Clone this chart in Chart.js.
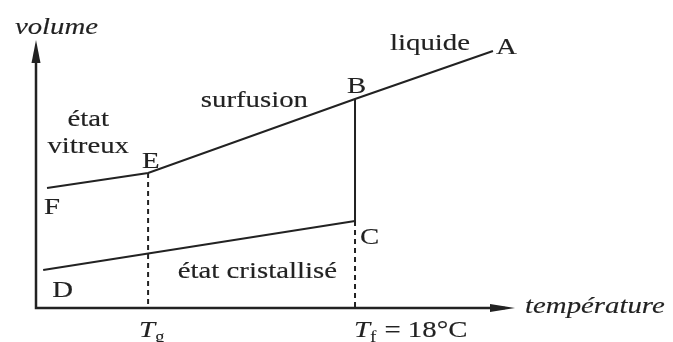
<!DOCTYPE html>
<html>
<head>
<meta charset="utf-8">
<script src="https://cdn.jsdelivr.net/npm/chart.js@4/dist/chart.umd.min.js"></script>
<style>
  html, body { margin: 0; padding: 0; background: #fff; }
  canvas { display: block; }
</style>
</head>
<body>
<canvas id="diagram" width="673" height="342"></canvas>
<script>
// Volume vs temperature (arbitrary units, 0..100 on both axes)
const liquidTemp = [2.3, 23.4, 66.6, 95.4];      // F, E, B, A
const liquidVolume = [44.8, 50.4, 78.0, 95.9];
const liquidNames = ["F", "E", "B", "A"];

const crystalTemp = [1.5, 66.6];                 // D, C
const crystalVolume = [14.2, 32.5];
const crystalNames = ["D", "C"];

const tempGlass = 23.4;   // T_g
const tempFusion = 66.6;  // T_f = 18°C

const ink = "#222";
const font = "24px 'Liberation Serif', serif";
const italic = "italic 24px 'Liberation Serif', serif";
const stretch = 1.2;

const toPoints = (xs, ys) => xs.map((x, i) => ({ x, y: ys[i] }));
const liquidPts = toPoints(liquidTemp, liquidVolume);
const crystalPts = toPoints(crystalTemp, crystalVolume);

// letter offsets next to each named point (px)
const nameOffset = {
  A: [3, 3], B: [-8, -6], E: [-6, -5], F: [-3, 26], C: [5, 23], D: [9, 27]
};

// free text, placed in axis units
const captions = [
  { text: "liquide", x: 73.9, y: 96.3 },
  { text: "surfusion", x: 34.4, y: 75.0 },
  { text: "état", x: 10.9, y: 67.9, align: "center" },
  { text: "vitreux", x: 10.9, y: 57.8, align: "center" },
  { text: "état cristallisé", x: 29.6, y: 11.2 },
  { text: "volume", x: -4.4, y: 102.2, italic: true },
  { text: "température", x: 102.1, y: -1.9, italic: true }
];

function drawText(ctx, text, px, py, opts = {}) {
  ctx.save();
  ctx.font = opts.italic ? italic : font;
  ctx.fillStyle = ink;
  ctx.strokeStyle = ink;
  ctx.lineWidth = 0.15;
  ctx.textBaseline = "alphabetic";
  ctx.translate(px, py);
  ctx.scale(stretch, 1);
  let w = ctx.measureText(text).width;
  const left = opts.align === "center" ? -w / 2 : 0;
  ctx.fillText(text, left, 0);
  ctx.strokeText(text, left, 0);
  ctx.restore();
  return w * stretch;
}

const diagramPlugin = {
  id: "diagram",
  beforeDatasetsDraw(chart) {
    const { ctx, scales: { x, y } } = chart;
    const x0 = x.getPixelForValue(0), y0 = y.getPixelForValue(0);
    const xEnd = x.getPixelForValue(100), yEnd = y.getPixelForValue(100);
    ctx.save();
    ctx.strokeStyle = ink;
    ctx.fillStyle = ink;
    ctx.lineWidth = 2.5;
    ctx.beginPath();
    ctx.moveTo(x0, yEnd + 10);
    ctx.lineTo(x0, y0);
    ctx.lineTo(xEnd - 10, y0);
    ctx.stroke();
    // arrow heads
    ctx.beginPath();
    ctx.moveTo(x0, yEnd);
    ctx.lineTo(x0 - 4.5, yEnd + 23);
    ctx.lineTo(x0 + 4.5, yEnd + 23);
    ctx.closePath();
    ctx.fill();
    ctx.beginPath();
    ctx.moveTo(xEnd, y0);
    ctx.lineTo(xEnd - 25, y0 - 4);
    ctx.lineTo(xEnd - 25, y0 + 4);
    ctx.closePath();
    ctx.fill();
    ctx.restore();
  },
  afterDatasetsDraw(chart) {
    const { ctx, scales: { x, y } } = chart;
    const named = [
      ...liquidPts.map((p, i) => [liquidNames[i], p]),
      ...crystalPts.map((p, i) => [crystalNames[i], p])
    ];
    named.forEach(([name, p]) => {
      const [dx, dy] = nameOffset[name];
      drawText(ctx, name, x.getPixelForValue(p.x) + dx, y.getPixelForValue(p.y) + dy);
    });
    captions.forEach(c => {
      drawText(ctx, c.text, x.getPixelForValue(c.x), y.getPixelForValue(c.y), c);
    });

    // temperature ticks: T_g and T_f = 18°C
    const base = y.getPixelForValue(0) + 29;
    const tick = (t, sub, rest, dx) => {
      let px = x.getPixelForValue(t) + dx;
      px += drawText(ctx, "T", px, base, { italic: true });
      ctx.save();
      ctx.font = "16px 'Liberation Serif', serif";
      ctx.fillStyle = ink;
      ctx.translate(px, base + 5);
      ctx.scale(stretch, 1);
      ctx.fillText(sub, 0, 0);
      const w = ctx.measureText(sub).width * stretch;
      ctx.restore();
      if (rest) drawText(ctx, rest, px + w + 8, base);
    };
    tick(tempGlass, "g", "", -9);
    tick(tempFusion, "f", "= 18°C", -1);
  }
};

const solid = { showLine: true, pointRadius: 0, borderColor: ink, borderWidth: 2, fill: false };
const dashed = { ...solid, borderDash: [5, 4] };

new Chart(document.getElementById("diagram"), {
  type: "scatter",
  data: {
    datasets: [
      { ...solid, data: liquidPts },
      { ...solid, data: crystalPts },
      // solidification B -> C
      { ...solid, data: [liquidPts[2], crystalPts[1]] },
      { ...dashed, data: [liquidPts[1], { x: tempGlass, y: 0 }] },
      { ...dashed, data: [crystalPts[1], { x: tempFusion, y: 0 }] }
    ]
  },
  options: {
    responsive: false,
    animation: false,
    devicePixelRatio: 1,
    layout: { padding: { left: 36, right: 158, top: 40, bottom: 34 } },
    scales: {
      x: { type: "linear", min: 0, max: 100, display: false },
      y: { type: "linear", min: 0, max: 100, display: false }
    },
    plugins: { legend: { display: false }, tooltip: { enabled: false } },
    elements: { line: { tension: 0 } },
    datasets: { scatter: { clip: false } }
  },
  plugins: [diagramPlugin]
});
</script>
</body>
</html>
